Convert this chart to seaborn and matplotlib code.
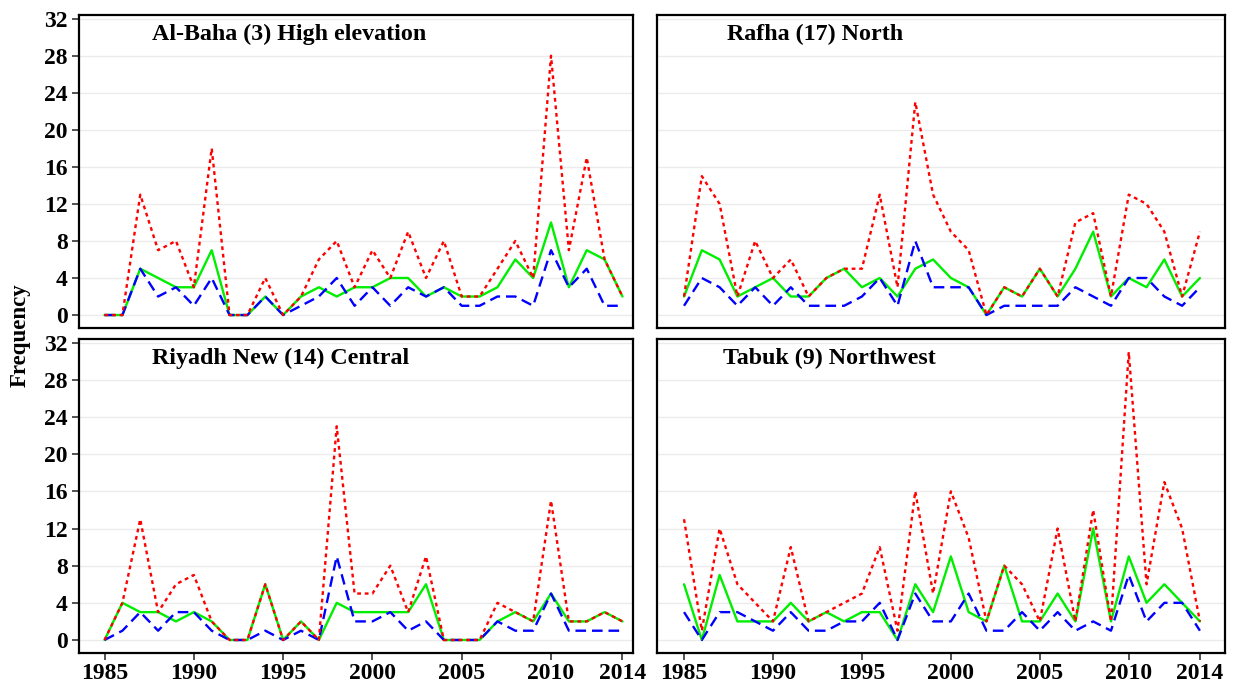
import numpy as np
import pandas as pd
import matplotlib
matplotlib.use("Agg")
import matplotlib.pyplot as plt
import seaborn as sns

years = list(range(1985, 2015))

# Al-Baha (3) High elevation
albaha_red   = [0,0,13,7,8,3,18,0,0,4,0,2,6,8,3,7,4,9,4,8,2,2,5,8,4,28,7,17,6,2]
albaha_green = [0,0,5,4,3,3,7,0,0,2,0,2,3,2,3,3,4,4,2,3,2,2,3,6,4,10,3,7,6,2]
albaha_blue  = [0,0,5,2,3,1,4,0,0,2,0,1,2,4,1,3,1,3,2,3,1,1,2,2,1,7,3,5,1,1]

# Rafha (17) North
rafha_red   = [2,15,12,2,8,4,6,2,4,5,5,13,3,23,13,9,7,0,3,2,5,2,10,11,2,13,12,9,2,9]
rafha_green = [2,7,6,2,3,4,2,2,4,5,3,4,2,5,6,4,3,0,3,2,5,2,5,9,2,4,3,6,2,4]
rafha_blue  = [1,4,3,1,3,1,3,1,1,1,2,4,1,8,3,3,3,0,1,1,1,1,3,2,1,4,4,2,1,3]

# Riyadh New (14) Central
riyadh_red   = [0,4,13,3,6,7,2,0,0,6,0,2,0,23,5,5,8,3,9,0,0,0,4,3,2,15,2,2,3,2]
riyadh_green = [0,4,3,3,2,3,2,0,0,6,0,2,0,4,3,3,3,3,6,0,0,0,2,3,2,5,2,2,3,2]
riyadh_blue  = [0,1,3,1,3,3,1,0,0,1,0,1,0,9,2,2,3,1,2,0,0,0,2,1,1,5,1,1,1,1]

# Tabuk (9) Northwest
tabuk_red   = [13,1,12,6,4,2,10,2,3,4,5,10,1,16,5,16,11,2,8,6,2,12,2,14,2,31,6,17,12,2]
tabuk_green = [6,0,7,2,2,2,4,2,3,2,3,3,0,6,3,9,3,2,8,2,2,5,2,12,2,9,4,6,4,2]
tabuk_blue  = [3,0,3,3,2,1,3,1,1,2,2,4,0,5,2,2,5,1,1,3,1,3,1,2,1,7,2,4,4,1]

titles = ["Al-Baha (3) High elevation", "Rafha (17) North",
          "Riyadh New (14) Central", "Tabuk (9) Northwest"]
yticks = [0, 4, 8, 12, 16, 20, 24, 28, 32]
xticks = [1985, 1990, 1995, 2000, 2005, 2010, 2014]

panels = [
    (albaha_red, albaha_green, albaha_blue),
    (rafha_red, rafha_green, rafha_blue),
    (riyadh_red, riyadh_green, riyadh_blue),
    (tabuk_red, tabuk_green, tabuk_blue),
]

sns.set_theme(style="white")
plt.rcParams['font.family'] = ['Liberation Serif', 'DejaVu Serif']

W, H = 1233, 687
fig = plt.figure(figsize=(W/100, H/100), dpi=100)

# pixel boxes (left, top, right, bottom)
boxes = [(79, 15, 633, 328), (657, 15, 1225, 328),
         (79, 339, 633, 653), (657, 339, 1225, 653)]
xlims = [(1983.57, 2014.59), (1983.48, 2015.41),
         (1983.57, 2014.59), (1983.48, 2015.41)]
title_x = [152, 727, 152, 723]

for i, ((l, t, r, b), (red, green, blue)) in enumerate(zip(boxes, panels)):
    ax = fig.add_axes([l/W, 1 - b/H, (r-l)/W, (b-t)/H])
    df = pd.DataFrame({"year": years, "red": red, "green": green, "blue": blue})
    sns.lineplot(data=df, x="year", y="green", ax=ax, color="#00EE00",
                 linewidth=1.7, linestyle="-")
    sns.lineplot(data=df, x="year", y="blue", ax=ax, color="#0000FF",
                 linewidth=1.7, linestyle=(0, (4.5, 2.5)))
    sns.lineplot(data=df, x="year", y="red", ax=ax, color="#FF0000",
                 linewidth=1.7, linestyle=(0, (1.6, 1.6)))
    ax.set_xlim(*xlims[i])
    ax.set_ylim(-1.4, 32.4)
    ax.set_xlabel("")
    ax.set_ylabel("")
    ax.set_yticks(yticks)
    ax.set_xticks(xticks)
    ax.yaxis.grid(True, color="#EBEBEB", linewidth=1.0)
    ax.xaxis.grid(False)
    ax.set_axisbelow(True)
    for s in ax.spines.values():
        s.set_color("black")
        s.set_linewidth(1.6)
    left_col = i in (0, 2)
    bottom_row = i in (2, 3)
    ax.tick_params(axis="y", left=left_col, labelleft=left_col, length=5,
                   width=1.2, color="#333333", direction="out", pad=3)
    ax.tick_params(axis="x", bottom=bottom_row, labelbottom=bottom_row,
                   length=5, width=1.2, color="#333333", direction="out", pad=2)
    for lab in ax.get_yticklabels() + ax.get_xticklabels():
        lab.set_fontsize(17)
        lab.set_fontweight("bold")
        lab.set_color("black")
    ax.text((title_x[i] - l) / (r - l), 0.939, titles[i], transform=ax.transAxes,
            ha="left", va="center", fontsize=17.3, fontweight="bold", color="black")

fig.text(20/W, 1 - 335/H, "Frequency", rotation=90, ha="center", va="center",
         fontsize=16.5, fontweight="bold", color="black")

fig.savefig("out.png", dpi=100, facecolor="white")
